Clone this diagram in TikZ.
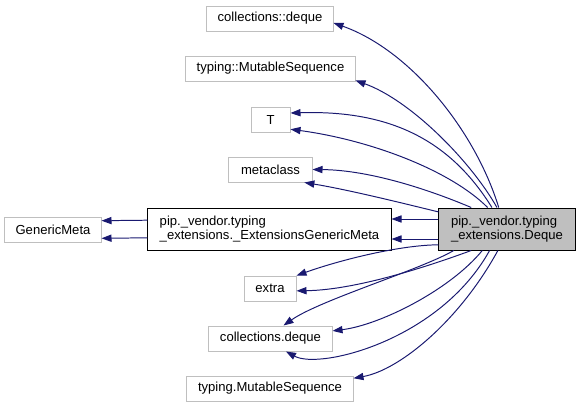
\documentclass[tikz,border=0pt]{standalone}
\usepackage{fontspec}
\setmainfont{Liberation Sans}
\usepackage{tikz}
\usetikzlibrary{arrows.meta, positioning}
\definecolor{dgray}{HTML}{BFBFBF}
\definecolor{dedge}{HTML}{191970}
\tikzset{
  classbox/.style={draw, rectangle, line width=0.7pt, inner sep=2pt,
                   minimum height=0.625cm, font=\fontsize{9.3}{9.8}\selectfont,
                   text=black},
  grayclass/.style={classbox, draw=dgray},
  blackclass/.style={classbox, draw=black, minimum height=1.05cm, align=left},
  curclass/.style={classbox, draw=black, fill=dgray, minimum height=1.05cm, align=left},
  inh/.style={-{Triangle[length=0.25cm, width=0.18cm]}, dedge, line width=0.7pt},
}

\begin{document}
\begin{tikzpicture}[x=0.025cm, y=-0.025cm]
  \useasboundingbox (0,0) rectangle (580,408);

  %% ── Classes ──
  \node[curclass, minimum width=3.4cm] (deque) at (507,229)
    {pip.\_vendor.typing\\\_extensions.Deque};
  \node[blackclass, minimum width=6.075cm] (egm) at (269.5,229)
    {pip.\_vendor.typing\\\_extensions.\_ExtensionsGenericMeta};
  \node[grayclass, minimum width=2.4cm] (gmeta) at (53,229.5) {GenericMeta};

  \node[grayclass, minimum width=3.15cm] (cdcolon) at (270,18.5) {collections::deque};
  \node[grayclass, minimum width=4.225cm] (tmscolon) at (270.5,68.5) {typing::MutableSequence};
  \node[grayclass, minimum width=0.975cm] (tvar) at (270.5,119.5) {T};
  \node[grayclass, minimum width=2.075cm] (meta) at (270.5,169.5) {metaclass};
  \node[grayclass, minimum width=1.3cm] (extra) at (270,288.5) {extra};
  \node[grayclass, minimum width=3.075cm] (cddot) at (270.5,338.5) {collections.deque};
  \node[grayclass, minimum width=4.15cm] (tmsdot) at (270,388.5) {typing.MutableSequence};

  %% ── Straight inheritance ──
  \draw[inh] ([yshift=0.25cm]deque.west) -- ([yshift=0.25cm]egm.east);
  \draw[inh] ([yshift=-0.25cm]deque.west) -- ([yshift=-0.25cm]egm.east);
  \draw[inh] ([yshift=0.22cm]egm.west) -- ([yshift=0.22cm]gmeta.east);
  \draw[inh] ([yshift=-0.22cm]egm.west) -- ([yshift=-0.22cm]gmeta.east);

  %% ── Upper curves ──
  \draw[inh] (deque.111) .. controls (475,130) and (410,50) .. (cdcolon.356);
  \draw[inh] (deque.115) .. controls (470,160) and (410,100) .. (tmscolon.-8);
  \draw[inh] (deque.125) .. controls (450,140) and (390,110) .. (tvar.18);
  \draw[inh] (deque.132) .. controls (450,170) and (370,140) .. (tvar.-26);
  \draw[inh] (deque.149) .. controls (430,190) and (370,170) .. (meta.0);
  \draw[inh] (deque.166) .. controls (410,205) and (350,190) .. (meta.-21.6);

  %% ── Lower curves ──
  \draw[inh] (deque.193) .. controls (400,245) and (340,260) .. (extra.26);
  \draw[inh] (deque.211.7) .. controls (440,262) and (360,290) .. (extra.-5.5);
  \draw[inh] (deque.202) .. controls (420,270) and (320,300) .. (cddot.45);
  \draw[inh] (deque.221) .. controls (450,290) and (380,325) .. (cddot.7);
  \draw[inh] (deque.231) .. controls (440,340) and (320,370) .. (cddot.-40.8);
  \draw[inh] (deque.247) .. controls (460,320) and (400,370) .. (tmsdot.7.9);

\end{tikzpicture}
\end{document}
